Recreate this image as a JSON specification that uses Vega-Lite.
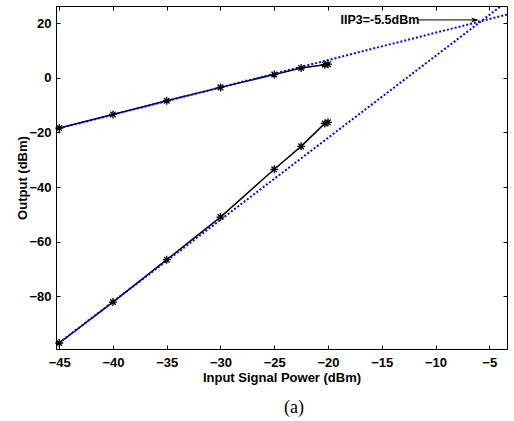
{
  "$schema": "https://vega.github.io/schema/vega-lite/v6.json",
  "width": 451,
  "height": 343,
  "autosize": "none",
  "padding": {"left": 56, "top": 6, "right": 7, "bottom": 72},
  "background": "white",
  "config": {
    "view": {"stroke": "black", "strokeWidth": 1},
    "axis": {
      "labelFont": "Liberation Sans", "labelFontWeight": "bold", "labelFontSize": 13, "labelColor": "black",
      "titleFont": "Liberation Sans", "titleFontWeight": "bold", "titleFontSize": 13, "titleColor": "black",
      "tickColor": "black", "tickSize": -4, "tickWidth": 1, "domainColor": "black", "grid": false
    }
  },
  "title": {
    "text": "(a)", "orient": "bottom", "anchor": "middle", "dx": 12.5, "offset": 14,
    "font": "Liberation Serif", "fontSize": 18, "fontWeight": "normal", "color": "black"
  },
  "datasets": {
    "meas": [
      {"x": -45, "y": -18.4, "s": "fund"},
      {"x": -40, "y": -13.4, "s": "fund"},
      {"x": -35, "y": -8.4, "s": "fund"},
      {"x": -30, "y": -3.5, "s": "fund"},
      {"x": -25, "y": 1.2, "s": "fund"},
      {"x": -22.5, "y": 3.6, "s": "fund"},
      {"x": -20.3, "y": 4.8, "s": "fund"},
      {"x": -20, "y": 5.0, "s": "fund"},
      {"x": -45, "y": -97.1, "s": "im3"},
      {"x": -40, "y": -82.1, "s": "im3"},
      {"x": -35, "y": -66.6, "s": "im3"},
      {"x": -30, "y": -51.0, "s": "im3"},
      {"x": -25, "y": -33.5, "s": "im3"},
      {"x": -22.5, "y": -25.1, "s": "im3"},
      {"x": -20.3, "y": -16.7, "s": "im3"},
      {"x": -20, "y": -16.3, "s": "im3"}
    ],
    "extrap": [
      {"x": -45, "y": -18.5, "s": "fund"},
      {"x": -3.35, "y": 23.15, "s": "fund"},
      {"x": -45, "y": -97.0, "s": "im3"},
      {"x": -3.9, "y": 26.3, "s": "im3"}
    ],
    "arrow": [
      {"x": -11.6, "y": 21.2},
      {"x": -6.4, "y": 21.2}
    ],
    "head": [
      {"x": -6.3, "y": 21.2}
    ],
    "label": [
      {"x": -18.84, "y": 21.35, "t": "IIP3=-5.5dBm"}
    ]
  },
  "layer": [
    {
      "data": {"name": "meas"},
      "mark": {"type": "line", "color": "black", "strokeWidth": 1.5},
      "encoding": {
        "x": {"field": "x", "type": "quantitative",
              "scale": {"domain": [-45.3, -3.35], "nice": false, "zero": false},
              "axis": {"orient": "bottom", "title": "Input Signal Power (dBm)", "values": [-45, -40, -35, -30, -25, -20, -15, -10, -5],
                       "labelPadding": 11, "titleX": 225.5, "titleY": 32.7, "titleBaseline": "alphabetic"}},
        "y": {"field": "y", "type": "quantitative",
              "scale": {"domain": [-99.3, 26.3], "nice": false, "zero": false},
              "axis": {"orient": "left", "title": "Output (dBm)", "values": [-80, -60, -40, -20, 0, 20],
                       "labelPadding": 9, "titleX": -33.5, "titleY": 171.5, "titleAngle": -90, "titleBaseline": "middle"}},
        "detail": {"field": "s"}
      }
    },
    {
      "data": {"name": "extrap"},
      "mark": {"type": "line", "color": "#0000ff", "strokeWidth": 2, "strokeDash": [2, 2]},
      "encoding": {
        "x": {"field": "x", "type": "quantitative", "scale": {"domain": [-45.3, -3.35], "nice": false, "zero": false}, "axis": null},
        "y": {"field": "y", "type": "quantitative", "scale": {"domain": [-99.3, 26.3], "nice": false, "zero": false}, "axis": null},
        "detail": {"field": "s"}
      }
    },
    {
      "data": {"name": "meas"},
      "mark": {"type": "point", "shape": "M-1,0L1,0M0,-1L0,1M-0.7,-0.7L0.7,0.7M-0.7,0.7L0.7,-0.7", "filled": false, "color": "black", "strokeWidth": 1.3, "size": 64, "opacity": 1},
      "encoding": {
        "x": {"field": "x", "type": "quantitative", "scale": {"domain": [-45.3, -3.35], "nice": false, "zero": false}, "axis": null},
        "y": {"field": "y", "type": "quantitative", "scale": {"domain": [-99.3, 26.3], "nice": false, "zero": false}, "axis": null}
      }
    },
    {
      "data": {"name": "arrow"},
      "mark": {"type": "line", "color": "black", "strokeWidth": 1},
      "encoding": {
        "x": {"field": "x", "type": "quantitative", "scale": {"domain": [-45.3, -3.35], "nice": false, "zero": false}, "axis": null},
        "y": {"field": "y", "type": "quantitative", "scale": {"domain": [-99.3, 26.3], "nice": false, "zero": false}, "axis": null}
      }
    },
    {
      "data": {"name": "head"},
      "mark": {"type": "point", "shape": "M-1,-0.55L1,0L-1,0.55L-0.6,0Z", "filled": true, "color": "black", "size": 64, "opacity": 1},
      "encoding": {
        "x": {"field": "x", "type": "quantitative", "scale": {"domain": [-45.3, -3.35], "nice": false, "zero": false}, "axis": null},
        "y": {"field": "y", "type": "quantitative", "scale": {"domain": [-99.3, 26.3], "nice": false, "zero": false}, "axis": null}
      }
    },
    {
      "data": {"name": "label"},
      "mark": {"type": "text", "font": "Liberation Sans", "fontWeight": "bold", "fontSize": 12.5, "color": "black", "align": "left", "baseline": "middle"},
      "encoding": {
        "x": {"field": "x", "type": "quantitative", "scale": {"domain": [-45.3, -3.35], "nice": false, "zero": false}, "axis": null},
        "y": {"field": "y", "type": "quantitative", "scale": {"domain": [-99.3, 26.3], "nice": false, "zero": false}, "axis": null},
        "text": {"field": "t"}
      }
    },
    {
      "data": {"name": "meas"},
      "mark": {"type": "point", "opacity": 0},
      "encoding": {
        "x": {"field": "x", "type": "quantitative", "scale": {"domain": [-45.3, -3.35], "nice": false, "zero": false},
              "axis": {"orient": "top", "labels": false, "title": null, "domain": false, "values": [-45, -40, -35, -30, -25, -20, -15, -10, -5]}},
        "y": {"field": "y", "type": "quantitative", "scale": {"domain": [-99.3, 26.3], "nice": false, "zero": false},
              "axis": {"orient": "right", "labels": false, "title": null, "domain": false, "values": [-80, -60, -40, -20, 0, 20]}}
      }
    }
  ],
  "resolve": {"axis": {"x": "independent", "y": "independent"}}
}
